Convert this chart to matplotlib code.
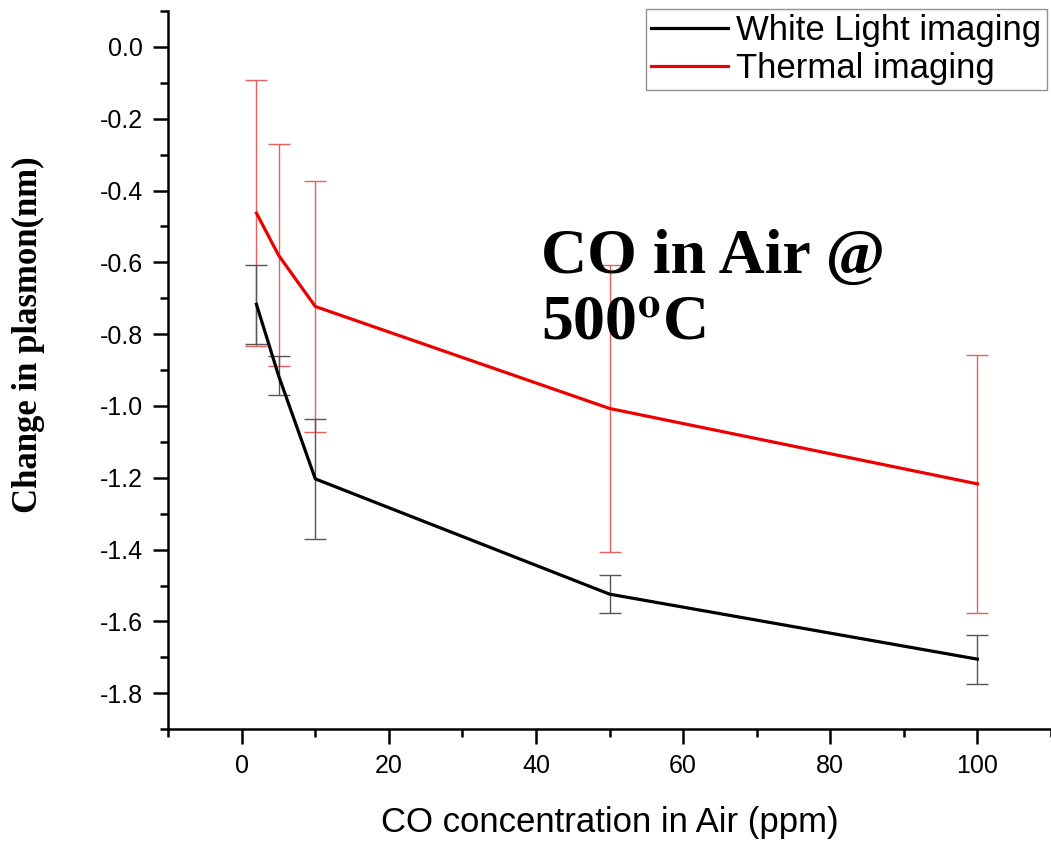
import numpy as np
import matplotlib.pyplot as plt

# CO concentration (ppm) and change in plasmon (nm)
conc = [2, 5, 10, 50, 100]
white_light = [-0.717, -0.915, -1.203, -1.524, -1.705]
white_err = [0.11, 0.055, 0.167, 0.052, 0.068]
thermal = [-0.463, -0.58, -0.723, -1.007, -1.217]
thermal_err = [0.37, 0.31, 0.35, 0.40, 0.36]

x_ticks = [0, 20, 40, 60, 80, 100]
y_ticks = [0.0, -0.2, -0.4, -0.6, -0.8, -1.0, -1.2, -1.4, -1.6, -1.8]

plt.rcParams['font.family'] = ['Liberation Sans', 'DejaVu Sans']
plt.rcParams['mathtext.fontset'] = 'stix'

fig = plt.figure(figsize=(10.51, 8.42), dpi=100)
ax = fig.add_axes([0.160, 0.134, 0.840, 0.853])

# error bars first, then lines on top
ax.errorbar(conc, thermal, yerr=thermal_err, fmt='none', ecolor='#e86060',
            elinewidth=1.0, capsize=8, capthick=1.0, zorder=2)
ax.errorbar(conc, white_light, yerr=white_err, fmt='none', ecolor='#555555',
            elinewidth=1.0, capsize=8, capthick=1.0, zorder=2)
ax.plot(conc, white_light, color='black', lw=2.3, label='White Light imaging', zorder=3)
ax.plot(conc, thermal, color='#ee0000', lw=2.3, label='Thermal imaging', zorder=3)

ax.set_xlim(-10, 110)
ax.set_ylim(-1.9, 0.1)
ax.set_xticks(x_ticks)
ax.set_xticks(np.arange(-10, 111, 10), minor=True)
ax.set_yticks(y_ticks)
ax.set_yticks(np.arange(-1.9, 0.11, 0.1), minor=True)
ax.set_yticklabels([f'{v:.1f}' for v in y_ticks])

for s in ['top', 'right']:
    ax.spines[s].set_visible(False)
for s in ['left', 'bottom']:
    ax.spines[s].set_linewidth(1.8)

ax.tick_params(which='major', direction='out', length=11, width=1.8,
               labelsize=18, pad=7)
ax.tick_params(which='minor', direction='out', length=6, width=1.8)

ax.set_xlabel('CO concentration in Air (ppm)', fontsize=25, va='center')
ax.xaxis.set_label_coords(0.5, -0.1295)
ax.set_ylabel('Change in plasmon(nm)', fontsize=25, fontweight='bold',
              family='Liberation Serif', va='center')
ax.yaxis.set_label_coords(-0.1586, 0.549)

ax.text(0.422, 0.542, 'CO in Air @\n500$^{\\mathbf{o}}$C', transform=ax.transAxes,
        fontsize=46, fontweight='bold', family='Liberation Serif',
        va='baseline', ha='left', linespacing=1.2)

leg = ax.legend(loc='upper right', bbox_to_anchor=(0.995, 1.003), fontsize=25,
                frameon=True, fancybox=False, edgecolor='#777777',
                handlelength=2.2, handletextpad=0.25, borderpad=0.15,
                labelspacing=0.15, borderaxespad=0.0)
leg.get_frame().set_linewidth(1.0)

fig.savefig('out.png', dpi=100)
